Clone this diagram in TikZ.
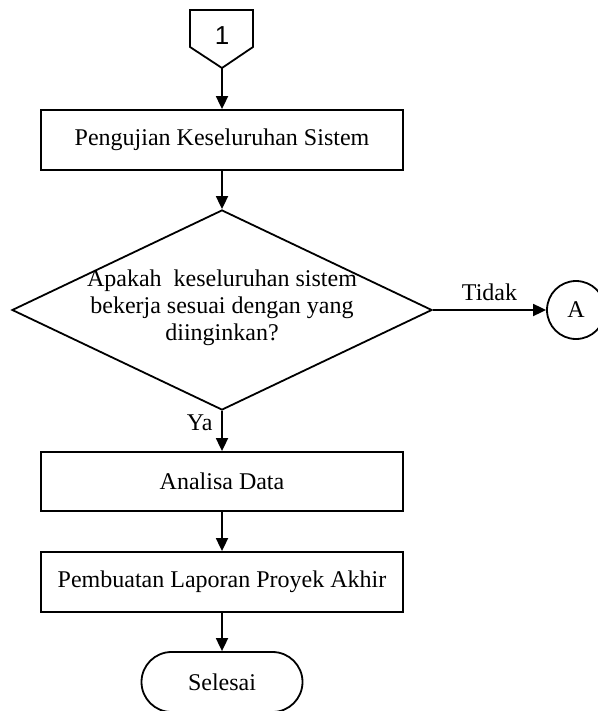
\documentclass[tikz,border=0pt]{standalone}
\usepackage{fontspec}
\setmainfont{Liberation Serif}
\newfontfamily\angkafont{Liberation Sans}
\usetikzlibrary{arrows.meta,shapes.geometric}

\tikzset{
    kotak/.style={draw,line width=0.9pt,minimum width=181pt,minimum height=30pt,inner sep=2pt},
    panah/.style={-{Triangle[length=6.5pt,width=6pt]},line width=0.9pt}
}

\begin{document}
\begin{tikzpicture}[x=0.5pt,y=-0.5pt,line join=miter,font=\fontsize{12}{13.5}\selectfont]
        \useasboundingbox (0,0) rectangle (598,711);

        \draw[line width=0.9pt] (190,10) -- (253,10) -- (253,47) -- (222,68) -- (190,47) -- cycle;
        \node[font=\angkafont\fontsize{13}{14}\selectfont] (satu) at (222,36) {1};
        \coordinate (satuujung) at (222,68);

        \node[kotak] (uji) at (222,140) {Pengujian Keseluruhan Sistem};

        \node[draw,diamond,line width=0.9pt,minimum width=210pt,minimum height=100pt,inner sep=0pt] (cek) at (222,310) {};
        \node[align=center] (cektext) at (222,308) {Apakah\ \ keseluruhan sistem\\bekerja sesuai dengan yang\\diinginkan?};

        \node[draw,circle,line width=0.9pt,minimum size=29pt,inner sep=0pt] (konA) at (576,310) {A};

        \node[kotak,minimum height=29.5pt] (analisa) at (222,481.5) {Analisa Data};
        \node[kotak] (laporan) at (222,582) {Pembuatan Laporan Proyek Akhir};
        \node[draw,line width=0.9pt,rounded corners=15pt,minimum width=80.5pt,minimum height=30pt] (selesai) at (222,682) {Selesai};

        \draw[panah] (satuujung) -- (uji.north);
        \draw[panah] (uji.south) -- (cek.north);
        \draw[panah] (cek.east) -- node[above=1pt] {Tidak} (konA.west);
        \draw[panah] (cek.south) -- node[left=1pt,pos=0.3] {Ya} (analisa.north);
        \draw[panah] (analisa.south) -- (laporan.north);
        \draw[panah] (laporan.south) -- (selesai.north);
    \end{tikzpicture}
\end{document}
